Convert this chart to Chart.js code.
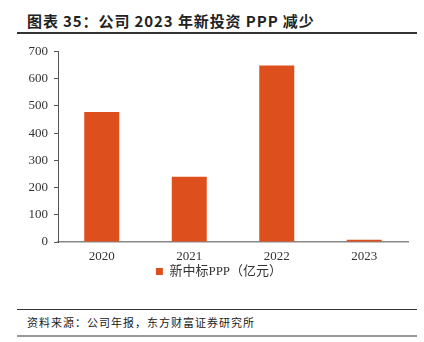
<!DOCTYPE html>
<html>
<head>
<meta charset="utf-8">
<script src="https://cdn.jsdelivr.net/npm/chart.js@4/dist/chart.umd.min.js"></script>
<style>
  html, body { margin: 0; padding: 0; background: #fff; }
  body { width: 424px; height: 342px; position: relative; overflow: hidden; }
  #title { position: absolute; left: 27px; top: 10px; font: bold 15px "Noto Sans CJK SC", sans-serif; color: #222; letter-spacing: 0.9px; white-space: nowrap; }
  .rule { position: absolute; left: 17px; width: 400px; }
  #wrap { position: absolute; left: 0; top: 36px; width: 424px; height: 252px; }
  #source { position: absolute; left: 27px; top: 314px; font: 11px "Noto Sans CJK SC", sans-serif; color: #222; letter-spacing: 1px; white-space: nowrap; }
</style>
</head>
<body>
<div id="title">图表 35：公司 2023 年新投资 PPP 减少</div>
<div class="rule" style="top:32px;height:2px;background:#333;"></div>
<div id="wrap"><canvas id="chart"></canvas></div>
<div class="rule" style="top:309px;height:1px;background:#333;"></div>
<div id="source">资料来源：公司年报，东方财富证券研究所</div>
<div class="rule" style="top:335px;height:2px;background:#999;"></div>
<script>
// 新中标PPP（亿元）
const years = ["2020", "2021", "2022", "2023"];
const newPPP = [478, 240, 649, 8];
const yTicks = [0, 100, 200, 300, 400, 500, 600, 700];

const serif = '"Liberation Serif", "Noto Sans CJK SC", serif';

// nudge the legend to the right, as in the original
const shiftLegend = {
  id: "shiftLegend",
  afterLayout(chart) {
    if (chart.legend) {
      chart.legend.left += 15;
      chart.legend.right += 15;
    }
  },
};

const ctx = document.getElementById("chart").getContext("2d");
new Chart(ctx, {
  type: "bar",
  data: {
    labels: years,
    datasets: [{
      label: "新中标PPP（亿元）",
      data: newPPP,
      backgroundColor: "#DD501E",
      borderWidth: 0,
      barPercentage: 0.4,
      categoryPercentage: 1,
    }],
  },
  options: {
    responsive: true,
    maintainAspectRatio: false,
    animation: false,
    layout: { padding: { left: 0, right: 16, top: 15.5, bottom: 0 } },
    plugins: {
      tooltip: { enabled: false },
      legend: {
        position: "bottom",
        labels: {
          boxWidth: 7,
          boxHeight: 7,
          padding: 4,
          color: "#333",
          font: { family: serif, size: 13 },
        },
      },
    },
    scales: {
      x: {
        grid: { display: false, drawTicks: false },
        border: { color: "#888", width: 1.5 },
        afterFit: (s) => { s.height = 19; },
        ticks: { color: "#333", padding: 7, font: { family: serif, size: 13 } },
      },
      y: {
        min: 0,
        max: 700,
        afterBuildTicks: (s) => { s.ticks = yTicks.map((v) => ({ value: v })); },
        afterFit: (s) => { s.width = 58; },
        grid: { drawOnChartArea: false, drawTicks: true, tickLength: 4, color: "#555" },
        border: { color: "#555", width: 1 },
        ticks: { color: "#333", padding: 6, font: { family: serif, size: 13 } },
      },
    },
  },
  plugins: [shiftLegend],
});
</script>
</body>
</html>
